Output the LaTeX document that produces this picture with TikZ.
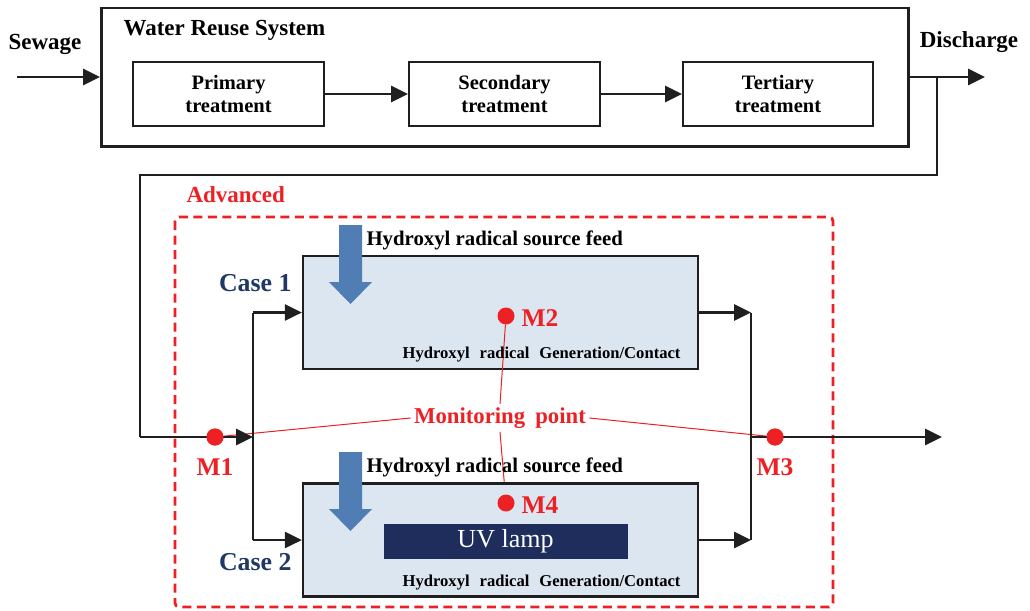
\documentclass[tikz,border=0pt]{standalone}
\usepackage{fontspec}
\setmainfont{Liberation Serif}
\usetikzlibrary{arrows.meta}
\definecolor{casefill}{RGB}{220,230,241}
\definecolor{feedblue}{RGB}{79,125,180}
\definecolor{casenavy}{RGB}{31,56,100}
\definecolor{lampnavy}{RGB}{31,45,92}
\definecolor{monred}{RGB}{237,32,36}

\begin{document}
\begin{tikzpicture}
[
	x=1pt,y=-1pt,
	flow/.style={line width=2.8pt,draw=black!88},
	flowarrow/.style={flow,-{Triangle[length=17pt,width=16pt]}},
	sysbox/.style={draw=black!88,line width=2.5pt,anchor=north west,inner sep=0pt,minimum width=807pt,minimum height=138pt},
	procbox/.style={draw=black!88,line width=2pt,inner sep=0pt,minimum width=191pt,minimum height=64pt,align=center,font=\bfseries\fontsize{20.5}{23}\selectfont},
	casebox/.style={draw=black!88,line width=2.2pt,fill=casefill,inner sep=0pt,minimum width=395pt,minimum height=113pt},
	bigtext/.style={font=\bfseries\fontsize{23}{26}\selectfont},
	feedtext/.style={font=\bfseries\fontsize{20.8}{23}\selectfont,anchor=west},
	gentext/.style={font=\bfseries\fontsize{16.6}{19}\selectfont\spaceskip 0.6em\relax,anchor=east},
	casetext/.style={font=\bfseries\fontsize{25.8}{28}\selectfont,text=casenavy,anchor=east},
	mdot/.style={circle,fill=monred,inner sep=0pt,minimum size=17pt},
	mtext/.style={font=\bfseries\fontsize{25.5}{28}\selectfont,text=monred},
	monline/.style={draw=monred,line width=1pt}
]
	\useasboundingbox (0,0) rectangle (1030,610);

	% water reuse system
	\node[sysbox] (wrs) at (100,7) {};
	\node[bigtext,anchor=west] (wrstitle) at (120,30) {Water Reuse System};
	\node[procbox] (primary) at (228.5,94) {Primary\\treatment};
	\node[procbox] (secondary) at (504.5,94) {Secondary\\treatment};
	\node[procbox,minimum width=190pt] (tertiary) at (778,94) {Tertiary\\treatment};
	\draw[flowarrow] (primary) -- (secondary);
	\draw[flowarrow] (secondary) -- (tertiary);

	% in and out
	\node[bigtext] (sewage) at (45,44) {Sewage};
	\node[bigtext] (discharge) at (969,42) {Discharge};
	\coordinate (sewin) at (17,77);
	\coordinate (disout) at (985,77);
	\coordinate (tap) at (937,77);
	\draw[flowarrow] (sewin) -- (sewin -| wrs.west);
	\draw[flowarrow] (sewin -| wrs.east) -- (disout);

	% advanced region
	\draw[monred,line width=2.8pt,dash pattern=on 9pt off 5.5pt,rounded corners=4pt] (175,217) rectangle (833,607);
	\node[bigtext,text=monred,anchor=west] (advanced) at (183,195) {Advanced};

	% monitoring label and leaders
	\node[mtext,font=\bfseries\fontsize{22.7}{25}\selectfont\spaceskip 0.45em\relax] (mon) at (500,418) {Monitoring point};
	\node[mdot] (m1) at (215,437) {};
	\node[mdot] (m2) at (506,316) {};
	\node[mdot] (m3) at (775,437) {};
	\node[mdot] (m4) at (506,503) {};
	\draw[monline] (mon.south) -- (m4);

	% cases
	\node[casebox] (case1) at (500.5,312.5) {};
	\node[casebox] (case2) at (500.5,540) {};
	\node[draw=lampnavy,fill=lampnavy,minimum width=243pt,minimum height=34pt,inner sep=0pt,text=white!92!casefill,font=\fontsize{26}{28}\selectfont] (uvlamp) at (505.5,541) {UV lamp};
	\node[mdot] at (m2) {};
	\node[mdot] at (m4) {};
	\draw[monline] (m2) -- (mon.north);
	\draw[monline] (mon.west) -- (m1);
	\draw[monline] (mon.east) -- (m3);

	% hydroxyl radical feed
	\foreach \ytop in {225,452}
		\fill[feedblue] (339,\ytop) -- ++(23,0) -- ++(0,57) -- ++(10,0) -- ++(-21.5,22) -- ++(-21.5,-22) -- ++(10,0) -- cycle;
	\node[feedtext] (feed1) at (363,240) {Hydroxyl radical source feed};
	\node[feedtext] (feed2) at (363,467) {Hydroxyl radical source feed};
	\node[gentext] (gen1) at (684,355) {Hydroxyl radical Generation/Contact};
	\node[gentext] (gen2) at (684,583) {Hydroxyl radical Generation/Contact};
	\node[casetext] (case1text) at (295,283) {Case 1};
	\node[casetext] (case2text) at (295,562) {Case 2};

	% piping
	\coordinate (ret) at (140,175);
	\coordinate (mainin) at (140,437);
	\coordinate (split) at (253,437);
	\coordinate (merge) at (751,437);
	\coordinate (mainout) at (942,437);
	\draw[flow,line width=2.4pt] (tap) |- (ret) -- (mainin);
	\draw[flowarrow] (mainin) -- (split);
	\draw[flow] (split |- case1.west) -- (split |- case2.west);
	\draw[flowarrow] (split |- case1.west) -- (case1.west);
	\draw[flowarrow] (split |- case2.west) -- (case2.west);
	\draw[flowarrow] (case1.east) -- (case1.east -| merge);
	\draw[flowarrow] (case2.east) -- (case2.east -| merge);
	\draw[flow] (case1.east -| merge) -- (case2.east -| merge);
	\draw[flowarrow] (merge) -- (mainout);

	% monitoring points
	\node[mdot] at (m1) {};
	\node[mdot] at (m3) {};
	\node[mtext] (m1text) at (215,467) {M1};
	\node[mtext] (m3text) at (775,467) {M3};
	\node[mtext,anchor=west] (m2text) at (518,318) {M2};
	\node[mtext,anchor=west] (m4text) at (518,505) {M4};

\end{tikzpicture}
\end{document}
